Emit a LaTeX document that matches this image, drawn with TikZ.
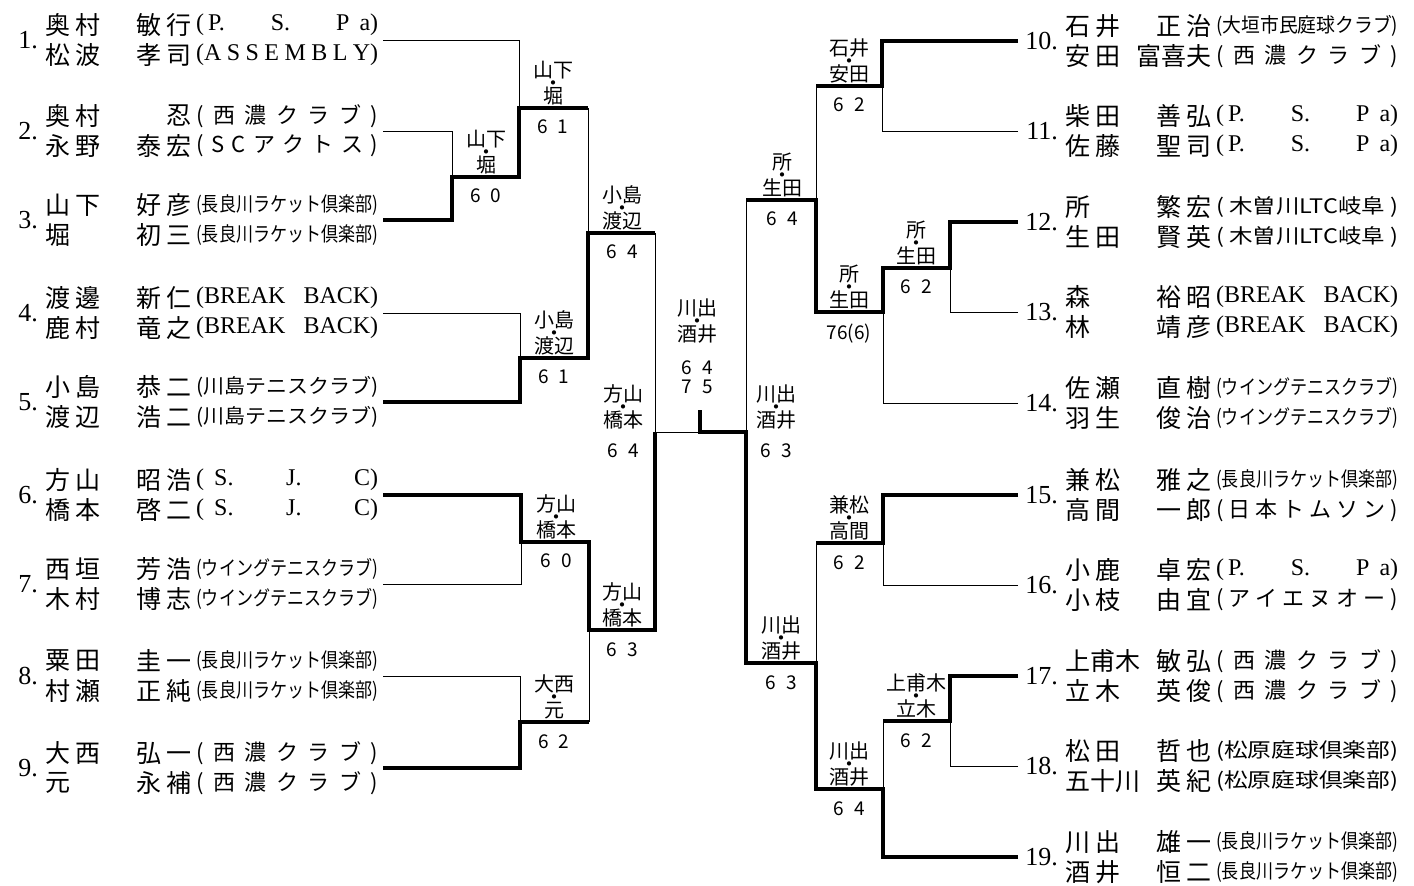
\documentclass[tikz,border=0pt]{standalone}
\usepackage{fontspec}
\setmainfont{Noto Sans CJK JP}
\newfontfamily\numfont{Liberation Serif}
\usepackage{graphicx}
\usetikzlibrary{positioning}

\newcommand\two[2]{#1\hspace{5pt}#2}
\newcommand\duo[2]{#1\\[-6pt]・\\[-6pt]#2}
\newcommand\score[2]{#1\hspace{10pt}#2}
\newcommand\lat{\numfont\fontsize{24}{26}\selectfont}
\newcommand\wide[1]{\makebox[182pt][s]{\fontsize{22}{24}\selectfont\frenchspacing\spaceskip=3pt plus 1fil\relax #1}}
\newcommand\tight[1]{\resizebox{182pt}{\height}{\fontsize{20}{22}\selectfont #1}}
\newcommand\psp{\wide{\lat (\hspace{4pt}P.\hfill S.\hfill P\hspace{10pt}a)}}
\newcommand\sjc{\wide{\lat (\hspace{10pt}S.\hfill J.\hfill C)}}

\tikzset{
  thinline/.style = {line width = .8pt},
  win/.style = {line width = 3.5pt},
  num/.style = {font = \numfont\fontsize{26}{28}\selectfont, anchor = east, inner sep = 0pt},
  sur/.style = {font = \fontsize{25}{27}\selectfont, anchor = west, inner sep = 0pt},
  giv/.style = {font = \fontsize{25}{27}\selectfont, anchor = east, inner sep = 0pt},
  club/.style = {anchor = west, inner sep = 0pt},
  lbl/.style = {font = \fontsize{20}{19}\selectfont, align = center, inner sep = 0pt},
  scr/.style = {font = \fontsize{19}{19}\selectfont, align = center, inner sep = 0pt}
}

% x0, number, y, surname, given name, club (first player), then the second player
\newcommand\entry[9]{%
  \node[num] (n#2) at (#1+38,#3) {#2.};
  \node[sur] (s#2a) at (#1+45,#3-15) {#4};
  \node[giv] (g#2a) at (#1+192,#3-15) {#5};
  \node[club] (c#2a) at (#1+196,#3-15) {#6};
  \node[sur] (s#2b) at (#1+45,#3+15) {#7};
  \node[giv] (g#2b) at (#1+192,#3+15) {#8};
  \node[club] (c#2b) at (#1+196,#3+15) {#9};
}

\begin{document}
\begin{tikzpicture}[x=1pt, y=-1pt]
  \useasboundingbox (0,0) rectangle (1414,886);

% players, left half
  \entry{0}{1}{40}{\two 奥村}{\two 敏行}{\psp}{\two 松波}{\two 孝司}{\wide{\lat (A S S E M B L Y)}}
  \entry{0}{2}{131}{\two 奥村}{忍}{\wide{( 西 濃 ク ラ ブ )}}{\two 永野}{\two 泰宏}{\wide{( S C ア ク ト ス )}}
  \entry{0}{3}{220}{\two 山下}{\two 好彦}{\tight{(長良川ラケット倶楽部)}}{堀}{\two 初三}{\tight{(長良川ラケット倶楽部)}}
  \entry{0}{4}{313}{\two 渡邊}{\two 新仁}{\wide{\lat (BREAK BACK)}}{\two 鹿村}{\two 竜之}{\wide{\lat (BREAK BACK)}}
  \entry{0}{5}{402}{\two 小島}{\two 恭二}{\tight{(川島テニスクラブ)}}{\two 渡辺}{\two 浩二}{\tight{(川島テニスクラブ)}}
  \entry{0}{6}{495}{\two 方山}{\two 昭浩}{\sjc}{\two 橋本}{\two 啓二}{\sjc}
  \entry{0}{7}{584}{\two 西垣}{\two 芳浩}{\tight{(ウイングテニスクラブ)}}{\two 木村}{\two 博志}{\tight{(ウイングテニスクラブ)}}
  \entry{0}{8}{676}{\two 粟田}{\two 圭一}{\tight{(長良川ラケット倶楽部)}}{\two 村瀬}{\two 正純}{\tight{(長良川ラケット倶楽部)}}
  \entry{0}{9}{768}{\two 大西}{\two 弘一}{\wide{( 西 濃 ク ラ ブ )}}{元}{\two 永補}{\wide{( 西 濃 ク ラ ブ )}}

% players, right half
  \entry{1020}{10}{41}{\two 石井}{\two 正治}{\tight{(大垣市民庭球クラブ)}}{\two 安田}{富喜夫}{\wide{( 西 濃 ク ラ ブ )}}
  \entry{1020}{11}{131}{\two 柴田}{\two 善弘}{\psp}{\two 佐藤}{\two 聖司}{\psp}
  \entry{1020}{12}{222}{所}{\two 繁宏}{\tight{( 木曽川LTC岐阜 )}}{\two 生田}{\two 賢英}{\tight{( 木曽川LTC岐阜 )}}
  \entry{1020}{13}{312}{森}{\two 裕昭}{\wide{\lat (BREAK BACK)}}{林}{\two 靖彦}{\wide{\lat (BREAK BACK)}}
  \entry{1020}{14}{403}{\two 佐瀬}{\two 直樹}{\tight{(ウイングテニスクラブ)}}{\two 羽生}{\two 俊治}{\tight{(ウイングテニスクラブ)}}
  \entry{1020}{15}{495}{\two 兼松}{\two 雅之}{\tight{(長良川ラケット倶楽部)}}{\two 高間}{\two 一郎}{\wide{( 日 本 ト ム ソ ン )}}
  \entry{1020}{16}{585}{\two 小鹿}{\two 卓宏}{\psp}{\two 小枝}{\two 由宜}{\wide{( ア イ エ ヌ オ ー )}}
  \entry{1020}{17}{676}{上甫木}{\two 敏弘}{\wide{( 西 濃 ク ラ ブ )}}{\two 立木}{\two 英俊}{\wide{( 西 濃 ク ラ ブ )}}
  \entry{1020}{18}{766}{\two 松田}{\two 哲也}{\tight{(松原庭球倶楽部)}}{五十川}{\two 英紀}{\tight{(松原庭球倶楽部)}}
  \entry{1020}{19}{857}{\two 川出}{\two 雄一}{\tight{(長良川ラケット倶楽部)}}{\two 酒井}{\two 恒二}{\tight{(長良川ラケット倶楽部)}}

% line ends at the players
  \foreach \i/\y in {1/40, 2/131, 3/220, 4/313, 5/402, 6/495, 7/584, 8/676, 9/768}
    \coordinate (p\i) at (383,\y);
  \foreach \i/\y in {10/41, 11/131, 12/222, 13/312, 14/403, 15/495, 16/585, 17/676, 18/766, 19/857}
    \coordinate (p\i) at (1018,\y);

% junctions
  \coordinate (jA) at (452,177);  \coordinate (jB) at (519,108);
  \coordinate (jC) at (520,358);  \coordinate (jD) at (588,233);
  \coordinate (jE) at (521,542);  \coordinate (jF) at (520,722);
  \coordinate (jG) at (589,630);  \coordinate (jH) at (655,432);
  \coordinate (fin) at (700,432); \coordinate (top) at (700,410);
  \coordinate (jK) at (882,86);   \coordinate (jL) at (950,268);
  \coordinate (jM) at (883,312);  \coordinate (jN) at (816,200);
  \coordinate (jP) at (883,543);  \coordinate (jQ) at (950,721);
  \coordinate (jR) at (883,789);  \coordinate (jS) at (816,663);
  \coordinate (jT) at (746,432);

% left bracket
  \draw[thinline] (p2) -| (jA);
  \draw[thinline] (p1) -| (jB);
  \draw[win] (p3) -| (jA) -| (jB) -- (jD |- jB);
  \draw[thinline] (jD |- jB) -- (jD);
  \draw[thinline] (p4) -| (jC);
  \draw[win] (p5) -| (jC) -| (jD) -- (jH |- jD);
  \draw[thinline] (jH |- jD) -- (jH);
  \draw[thinline] (p7) -| (jE);
  \draw[thinline] (p8) -| (jF);
  \draw[win] (p9) -| (jF) -- (jG |- jF);
  \draw[thinline] (jG |- jF) -- (jG);
  \draw[win] (p6) -| (jE) -| (jG) -| (jH);
  \draw[thinline] (jH) -- (fin);

% right bracket
  \draw[thinline] (p11) -| (jK);
  \draw[win] (p10) -| (jK) -- (jN |- jK);
  \draw[thinline] (jN |- jK) -- (jN);
  \draw[thinline] (p13) -| (jL);
  \draw[thinline] (p14) -| (jM);
  \draw[win] (p12) -| (jL) -| (jM) -| (jN) -- (jT |- jN);
  \draw[thinline] (jT |- jN) -- (jT);
  \draw[thinline] (p16) -| (jP);
  \draw[win] (p15) -| (jP) -- (jS |- jP);
  \draw[thinline] (jS |- jP) -- (jS);
  \draw[thinline] (p18) -| (jQ);
  \draw[win] (p17) -| (jQ) -- (jR |- jQ);
  \draw[thinline] (jR |- jQ) -- (jR);
  \draw[win] (p19) -| (jR) -| (jS) -| (jT) -- (fin) -- (top);

% winners and scores
  \coordinate (mA) at (486,177);  \coordinate (mB) at (553,108);
  \coordinate (mC) at (554,358);  \coordinate (mD) at (622,233);
  \coordinate (mE) at (556,542);  \coordinate (mF) at (554,722);
  \coordinate (mG) at (622,630);  \coordinate (mH) at (623,432);
  \coordinate (mK) at (849,86);   \coordinate (mL) at (916,268);
  \coordinate (mM) at (849,312);  \coordinate (mN) at (782,200);
  \coordinate (mP) at (849,543);  \coordinate (mQ) at (916,721);
  \coordinate (mR) at (849,789);  \coordinate (mS) at (781,663);
  \coordinate (mT) at (776,432);

  \node[lbl, above = 3pt of mA] (wA) {\duo{山下}{堀}};
  \node[scr, below = 12pt of mA] (sA) {\score60};
  \node[lbl, above = 3pt of mB] (wB) {\duo{山下}{堀}};
  \node[scr, below = 12pt of mB] (sB) {\score61};
  \node[lbl, above = 3pt of mC] (wC) {\duo{小島}{渡辺}};
  \node[scr, below = 12pt of mC] (sC) {\score61};
  \node[lbl, above = 3pt of mD] (wD) {\duo{小島}{渡辺}};
  \node[scr, below = 12pt of mD] (sD) {\score64};
  \node[lbl, above = 3pt of mE] (wE) {\duo{方山}{橋本}};
  \node[scr, below = 12pt of mE] (sE) {\score60};
  \node[lbl, above = 3pt of mF] (wF) {\duo{大西}{元}};
  \node[scr, below = 12pt of mF] (sF) {\score62};
  \node[lbl, above = 3pt of mG] (wG) {\duo{方山}{橋本}};
  \node[scr, below = 12pt of mG] (sG) {\score63};
  \node[lbl, above = 3pt of mH] (wH) {\duo{方山}{橋本}};
  \node[scr, below = 12pt of mH] (sH) {\score64};

  \node[lbl, above = 3pt of mK] (wK) {\duo{石井}{安田}};
  \node[scr, below = 12pt of mK] (sK) {\score62};
  \node[lbl, above = 3pt of mL] (wL) {\duo{所}{生田}};
  \node[scr, below = 12pt of mL] (sL) {\score62};
  \node[lbl, above = 3pt of mM] (wM) {\duo{所}{生田}};
  \node[scr, below = 12pt of mM] (sM) {76(6)};
  \node[lbl, above = 3pt of mN] (wN) {\duo{所}{生田}};
  \node[scr, below = 12pt of mN] (sN) {\score64};
  \node[lbl, above = 3pt of mP] (wP) {\duo{兼松}{高間}};
  \node[scr, below = 12pt of mP] (sP) {\score62};
  \node[lbl, above = 3pt of mQ] (wQ) {\duo{上甫木}{立木}};
  \node[scr, below = 12pt of mQ] (sQ) {\score62};
  \node[lbl, above = 3pt of mR] (wR) {\duo{川出}{酒井}};
  \node[scr, below = 12pt of mR] (sR) {\score64};
  \node[lbl, above = 3pt of mS] (wS) {\duo{川出}{酒井}};
  \node[scr, below = 12pt of mS] (sS) {\score63};
  \node[lbl, above = 3pt of mT] (wT) {\duo{川出}{酒井}};
  \node[scr, below = 12pt of mT] (sT) {\score63};

% final
  \node[lbl] (wFin) at (697,321) {\duo{川出}{酒井}};
  \node[scr] (sFin) at (697,377) {\score64\\\score75};
\end{tikzpicture}
\end{document}
